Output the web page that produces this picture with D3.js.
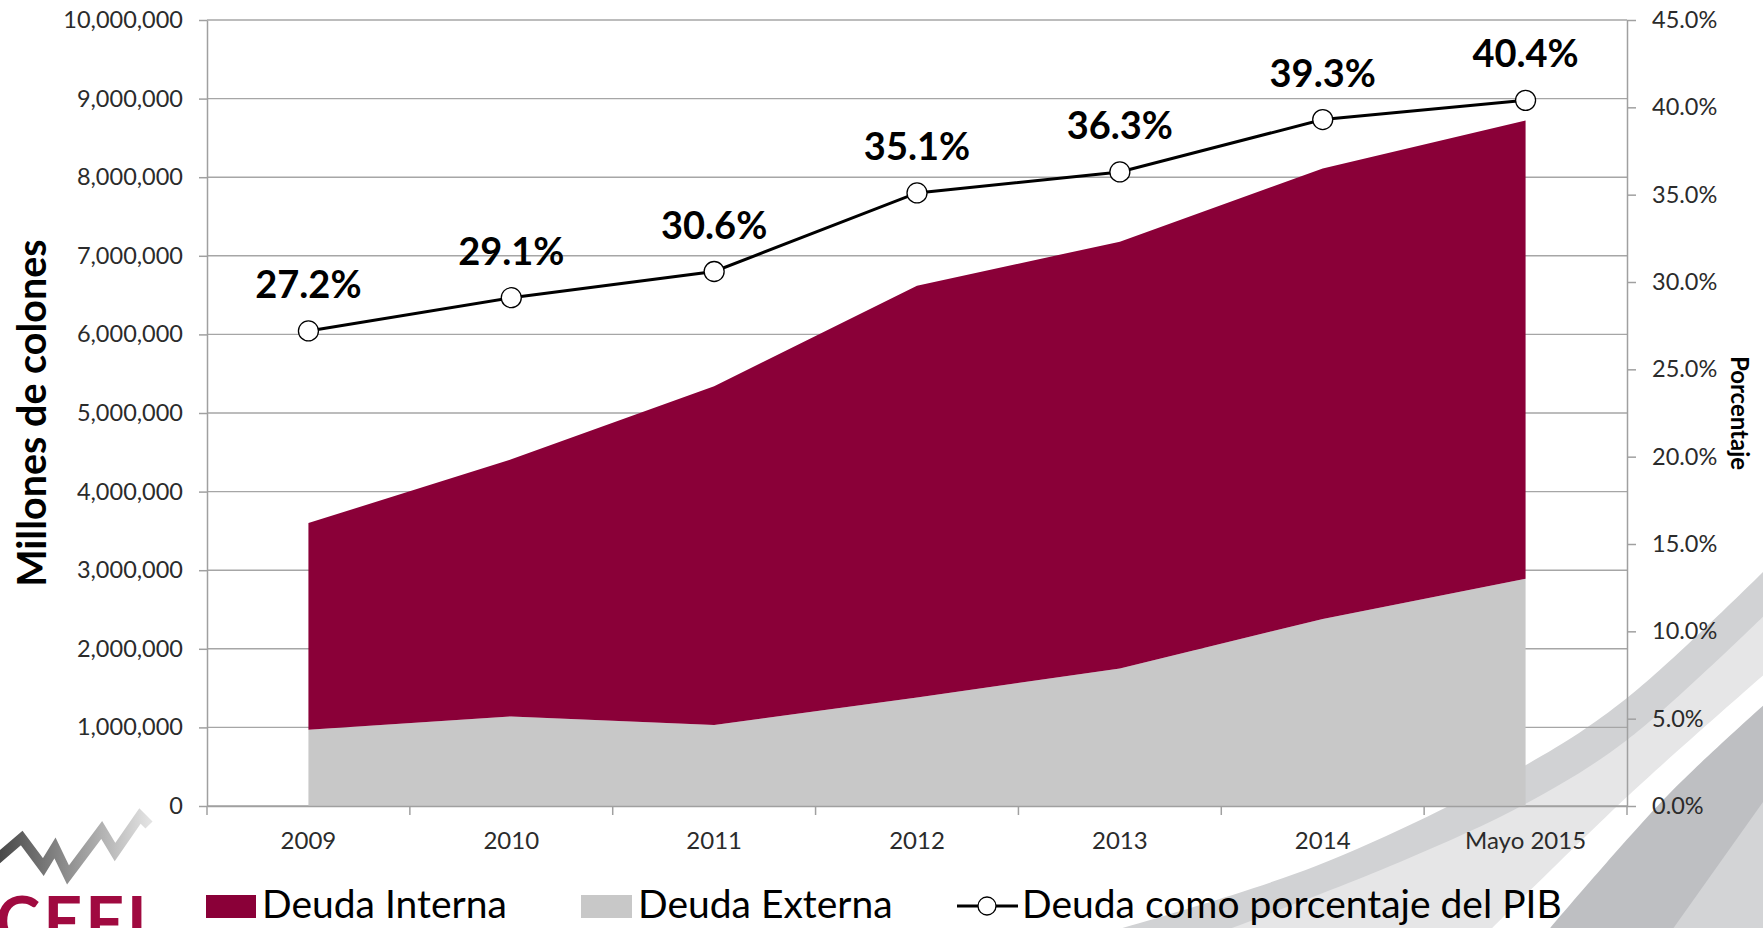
<!DOCTYPE html>
<html>
<head>
<meta charset="utf-8">
<script src="https://cdn.jsdelivr.net/npm/d3@7"></script>
<style>
  html, body { margin: 0; padding: 0; background: #ffffff; }
  svg { display: block; font-family: Lato, "Open Sans", sans-serif; }
</style>
</head>
<body>
<script>
// ---------- DATA ----------
const categories = ["2009", "2010", "2011", "2012", "2013", "2014", "Mayo 2015"];
const deudaExterna = [970000, 1140000, 1030000, 1380000, 1750000, 2380000, 2890000];
const deudaInterna = [2630000, 3270000, 4310000, 5240000, 5430000, 5730000, 5830000];
const deudaPctPIB = [27.2, 29.1, 30.6, 35.1, 36.3, 39.3, 40.4];
const leftTicks = [0, 1000000, 2000000, 3000000, 4000000, 5000000, 6000000, 7000000, 8000000, 9000000, 10000000];
const rightTicks = [0, 5, 10, 15, 20, 25, 30, 35, 40, 45];
const seriesNames = ["Deuda Interna", "Deuda Externa", "Deuda como porcentaje del PIB"];
const yTitleLeft = "Millones de colones";
const yTitleRight = "Porcentaje";
const logoText = "CEFI";

// ---------- LAYOUT ----------
const W = 1763, H = 928;
const plot = { left: 207, right: 1627, top: 20, bottom: 806 };
const colInterna = "#8a0038", colExterna = "#c8c8c8";
const gridCol = "#a6a6a6", axisCol = "#a0a0a0", textCol = "#2b2b2b";

const svg = d3.select("body").append("svg").attr("width", W).attr("height", H);
const defs = svg.append("defs");

// ---------- BACKGROUND DECORATION (swooshes) ----------
const edge = d3.line().curve(d3.curveCatmullRom);
const swooshEdges = [
  { c: "#d1d2d4", p: [[1080, 940], [1316, 866], [1526, 765], [1627, 698], [1775, 560]] },
  { c: "#e6e6e7", p: [[1200, 940], [1400, 862], [1527, 803], [1627, 740], [1775, 605]] },
  { c: "#ffffff", p: [[1480, 940], [1629, 795], [1775, 665]] },
  { c: "#bebfc2", p: [[1540, 940], [1668, 795], [1775, 695]] },
  { c: "#d3d4d6", p: [[1665, 940], [1775, 785]] }
];
const deco = svg.append("g").attr("class", "deco");
swooshEdges.forEach(s => {
  const d = edge(s.p) + "L1800," + s.p[s.p.length - 1][1] + "L1800,960L" + s.p[0][0] + ",960Z";
  deco.append("path").attr("d", d).attr("fill", s.c);
});

// logo zigzag
const grad = defs.append("linearGradient").attr("id", "zz").attr("x1", "0%").attr("x2", "100%");
grad.append("stop").attr("offset", "0%").attr("stop-color", "#454545");
grad.append("stop").attr("offset", "100%").attr("stop-color", "#e2e2e2");
const zig = [[-4, 860], [21.7, 838], [43.3, 867], [55, 848], [68, 875], [101.7, 830], [115, 852], [140, 816], [149, 825]];
svg.append("path").attr("d", d3.line()(zig)).attr("fill", "none")
  .attr("stroke", "url(#zz)").attr("stroke-width", 10).attr("stroke-linejoin", "miter");
svg.append("text").text(logoText).attr("x", 150).attr("y", 946)
  .attr("text-anchor", "end").attr("font-weight", 700).attr("font-size", 68)
  .attr("letter-spacing", 3).attr("fill", "#a00a40");

// ---------- SCALES ----------
const x = d3.scaleBand().domain(categories).range([plot.left, plot.right]).padding(0);
const xc = c => x(c) + x.bandwidth() / 2;
const yL = d3.scaleLinear().domain([0, 10000000]).range([plot.bottom, plot.top]);
const yR = d3.scaleLinear().domain([0, 45]).range([plot.bottom, plot.top]);

// ---------- GRIDLINES ----------
svg.append("g").selectAll("line").data(leftTicks).join("line")
  .attr("x1", plot.left).attr("x2", plot.right)
  .attr("y1", d => yL(d)).attr("y2", d => yL(d))
  .attr("stroke", gridCol).attr("stroke-width", 1.4);

// ---------- STACKED AREAS ----------
const rows = categories.map((c, i) => ({ cat: c, externa: deudaExterna[i], interna: deudaInterna[i] }));
const stacked = d3.stack().keys(["externa", "interna"])(rows);
const area = d3.area().x(d => xc(d.data.cat)).y0(d => yL(d[0])).y1(d => yL(d[1]));
svg.append("g").selectAll("path").data(stacked).join("path")
  .attr("d", area)
  .attr("fill", d => d.key === "interna" ? colInterna : colExterna);

// ---------- AXES ----------
const axL = svg.append("g").attr("transform", `translate(${plot.left},0)`)
  .call(d3.axisLeft(yL).tickValues(leftTicks).tickFormat(d3.format(",")).tickSize(8).tickSizeOuter(0).tickPadding(16));
const axR = svg.append("g").attr("transform", `translate(${plot.right},0)`)
  .call(d3.axisRight(yR).tickValues(rightTicks).tickFormat(d => d.toFixed(1) + "%").tickSize(9).tickSizeOuter(0).tickPadding(16));
const axB = svg.append("g").attr("transform", `translate(0,${plot.bottom})`)
  .call(d3.axisBottom(x).tickSize(0).tickPadding(26));
[axL, axR, axB].forEach(a => {
  a.select(".domain").attr("stroke", axisCol).attr("stroke-width", 1.5);
  a.selectAll(".tick line").attr("stroke", axisCol).attr("stroke-width", 1.5);
  a.selectAll("text").attr("fill", textCol).attr("font-family", "Lato");
});
axL.selectAll("text").attr("font-size", 23.5);
axR.selectAll("text").attr("font-size", 23.5);
axB.selectAll("text").attr("font-size", 24);
// category boundary ticks
const bounds = categories.map(c => x(c)).concat([x.range()[1]]);
svg.append("g").selectAll("line").data(bounds).join("line")
  .attr("x1", d => d).attr("x2", d => d)
  .attr("y1", plot.bottom).attr("y2", plot.bottom + 9)
  .attr("stroke", axisCol).attr("stroke-width", 1.5);

// ---------- LINE (right axis) ----------
const lineData = categories.map((c, i) => ({ cat: c, v: deudaPctPIB[i] }));
svg.append("path").datum(lineData)
  .attr("d", d3.line().x(d => xc(d.cat)).y(d => yR(d.v)))
  .attr("fill", "none").attr("stroke", "#000").attr("stroke-width", 3);
svg.append("g").selectAll("circle").data(lineData).join("circle")
  .attr("cx", d => xc(d.cat)).attr("cy", d => yR(d.v)).attr("r", 10)
  .attr("fill", "#fff").attr("stroke", "#000").attr("stroke-width", 1.3);
svg.append("g").selectAll("text").data(lineData).join("text")
  .attr("x", d => xc(d.cat)).attr("y", d => yR(d.v) - 33)
  .attr("text-anchor", "middle").attr("font-weight", 700).attr("font-size", 38)
  .attr("fill", "#000").text(d => d.v.toFixed(1) + "%");

// ---------- AXIS TITLES ----------
svg.append("text").text(yTitleLeft)
  .attr("transform", "translate(30,413) rotate(-90)")
  .attr("text-anchor", "middle").attr("dominant-baseline", "central")
  .attr("font-weight", 700).attr("font-size", 39.5).attr("fill", "#000");
svg.append("text").text(yTitleRight)
  .attr("transform", "translate(1740,413) rotate(90)")
  .attr("text-anchor", "middle").attr("dominant-baseline", "central")
  .attr("font-weight", 700).attr("font-size", 24).attr("fill", "#000");

// ---------- LEGEND ----------
const lg = svg.append("g");
const legY = 918, legFont = 39;
lg.append("rect").attr("x", 206).attr("y", 895).attr("width", 50).attr("height", 23).attr("fill", colInterna);
lg.append("text").attr("x", 262).attr("y", legY).text(seriesNames[0]);
lg.append("rect").attr("x", 581).attr("y", 895).attr("width", 51).attr("height", 23).attr("fill", colExterna);
lg.append("text").attr("x", 638).attr("y", legY).text(seriesNames[1]);
lg.append("line").attr("x1", 957).attr("x2", 1018).attr("y1", 906).attr("y2", 906)
  .attr("stroke", "#000").attr("stroke-width", 3);
lg.append("circle").attr("cx", 987).attr("cy", 906).attr("r", 9)
  .attr("fill", "#fff").attr("stroke", "#000").attr("stroke-width", 1.3);
lg.append("text").attr("x", 1022).attr("y", legY).text(seriesNames[2]);
lg.selectAll("text").attr("font-size", legFont).attr("fill", "#000");
</script>
</body>
</html>
